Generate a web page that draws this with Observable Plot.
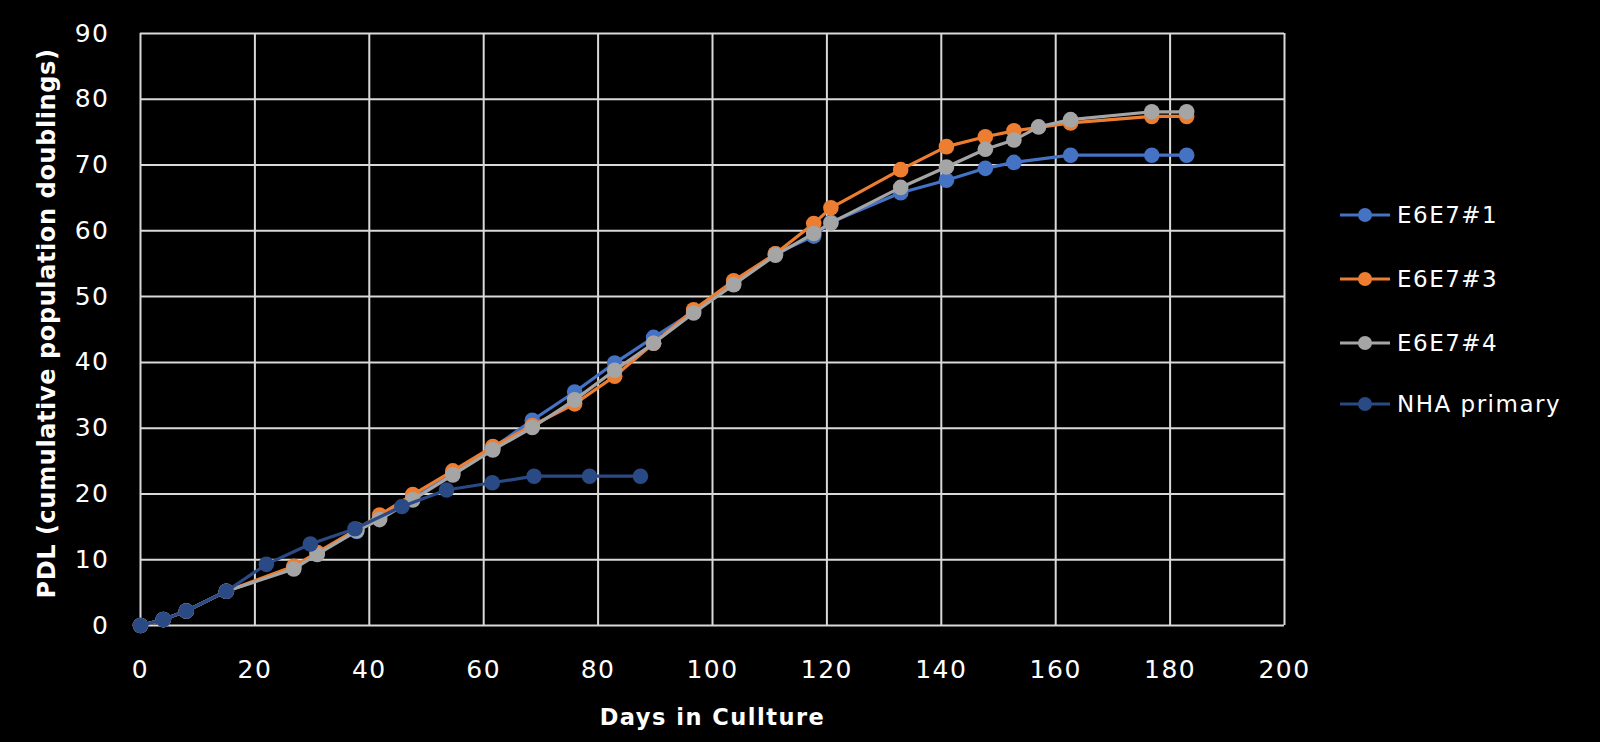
<!DOCTYPE html>
<html><head><meta charset="utf-8">
<script src="https://cdn.jsdelivr.net/npm/d3@7"></script>
<script src="https://cdn.jsdelivr.net/npm/@observablehq/plot@0.6"></script>
<style>
html,body{margin:0;padding:0;background:#000;}
#wrap{position:relative;width:1600px;height:742px;background:#000;}
#wrap svg text{letter-spacing:1.5px;}
#legend{position:absolute;left:0;top:0;}
</style></head><body><div id="wrap"></div>
<script>
const seriesNames = ["E6E7#1", "E6E7#3", "E6E7#4", "NHA primary"];
const seriesColors = ["#4472C4", "#ED7D31", "#A5A5A5", "#2A4A86"];

const daysE6E7_1 = [0, 4, 8, 15, 26.8, 30.9, 37.8, 41.8, 47.6, 54.6, 61.6, 68.5, 75.9, 82.9, 89.7, 96.7, 103.7, 111, 117.7, 120.7, 132.9, 140.9, 147.7, 152.7, 162.6, 176.8, 182.9];
const pdlE6E7_1  = [0, 0.9, 2.2, 5.2, 8.8, 11.0, 14.3, 16.4, 19.6, 23.2, 27.0, 31.2, 35.5, 39.9, 43.8, 47.7, 52.0, 56.5, 59.2, 61.3, 65.8, 67.7, 69.5, 70.4, 71.5, 71.5, 71.5];

const daysE6E7_3 = [0, 4, 8, 15, 26.8, 30.9, 37.8, 41.8, 47.6, 54.6, 61.6, 68.5, 75.9, 82.9, 89.7, 96.7, 103.7, 111, 117.7, 120.7, 132.9, 140.9, 147.7, 152.7, 162.6, 176.8, 182.9];
const pdlE6E7_3  = [0, 0.9, 2.2, 5.2, 9.0, 11.1, 14.6, 16.8, 19.9, 23.5, 27.2, 30.4, 33.7, 37.9, 42.9, 48.0, 52.4, 56.5, 61.1, 63.5, 69.3, 72.8, 74.3, 75.2, 76.4, 77.4, 77.4];

const daysE6E7_4 = [0, 4, 8, 15, 26.8, 30.9, 37.8, 41.8, 47.6, 54.6, 61.6, 68.5, 75.9, 82.9, 89.7, 96.7, 103.7, 111, 117.7, 120.7, 132.9, 140.9, 147.7, 152.7, 157, 162.6, 176.8, 182.9];
const pdlE6E7_4  = [0, 0.9, 2.2, 5.2, 8.6, 10.8, 14.4, 16.1, 19.1, 22.9, 26.7, 30.1, 34.3, 38.8, 42.9, 47.5, 51.8, 56.3, 59.6, 61.2, 66.6, 69.7, 72.4, 73.8, 75.8, 76.9, 78.1, 78.1];

const daysNHA = [0, 4, 8, 15, 22, 29.7, 37.5, 45.7, 53.5, 61.5, 68.8, 78.5, 87.4];
const pdlNHA  = [0, 0.9, 2.2, 5.2, 9.3, 12.4, 14.7, 18.1, 20.6, 21.7, 22.7, 22.7, 22.7];

const xTicks = [0, 20, 40, 60, 80, 100, 120, 140, 160, 180, 200];
const yTicks = [0, 10, 20, 30, 40, 50, 60, 70, 80, 90];
const xTitle = "Days in Cullture";
const yTitle = "PDL (cumulative population doublings)";

const seriesDays = [daysE6E7_1, daysE6E7_3, daysE6E7_4, daysNHA];
const seriesPdl = [pdlE6E7_1, pdlE6E7_3, pdlE6E7_4, pdlNHA];
const tables = seriesNames.map((name, i) =>
  seriesDays[i].map((d, j) => ({series: name, day: d, pdl: seriesPdl[i][j]})));

const gridColor = "#d9d9d9";
const seriesMarks = tables.flatMap(t => [
  Plot.line(t, {x: "day", y: "pdl", stroke: "series", strokeWidth: 3.2}),
  Plot.dot(t, {x: "day", y: "pdl", fill: "series", r: 7.8})
]);

const chart = Plot.plot({
  width: 1600,
  height: 742,
  marginLeft: 140,
  marginRight: 316,
  marginTop: 33,
  marginBottom: 117,
  style: {background: "#000", color: "#fff", fontFamily: "DejaVu Sans", fontSize: "25px"},
  x: {domain: [0, 200], ticks: xTicks, label: null},
  y: {domain: [0, 90], ticks: yTicks, label: null},
  color: {domain: seriesNames, range: seriesColors},
  marks: [
    Plot.gridX(xTicks, {stroke: gridColor, strokeOpacity: 1, strokeWidth: 2}),
    Plot.gridY(yTicks, {stroke: gridColor, strokeOpacity: 1, strokeWidth: 2}),
    Plot.axisX(xTicks, {tickSize: 0, tickPadding: 35, label: null, fill: "#fff", fontSize: 25}),
    Plot.axisY(yTicks, {tickSize: 0, tickPadding: 31, label: null, fill: "#fff", fontSize: 25}),
    ...seriesMarks,
    Plot.text([xTitle], {text: d => d, frameAnchor: "bottom", dy: 92, lineAnchor: "middle", fill: "#fff", fontWeight: "bold", fontSize: 22.5}),
    Plot.text([yTitle], {text: d => d, frameAnchor: "left", dx: -93, dy: -6, rotate: -90, textAnchor: "middle", lineAnchor: "middle", fill: "#fff", fontWeight: "bold", fontSize: 24})
  ]
});
document.getElementById("wrap").appendChild(chart);
d3.select(chart).selectAll("text")
  .filter(function() { return this.textContent === yTitle; })
  .style("letter-spacing", "0.6px");

// legend
const legendY = [215, 279, 343, 404];
const leg = d3.select("#wrap").append("svg").attr("id", "legend")
  .attr("width", 1600).attr("height", 742);
seriesNames.forEach((name, i) => {
  const g = leg.append("g").attr("transform", `translate(1340,${legendY[i]})`);
  g.append("line").attr("x1", 0).attr("x2", 50).attr("y1", 0).attr("y2", 0)
    .attr("stroke", seriesColors[i]).attr("stroke-width", 3);
  g.append("circle").attr("cx", 25).attr("cy", 0).attr("r", 7).attr("fill", seriesColors[i]);
  g.append("text").attr("x", 57).attr("y", 0).attr("dy", "0.36em")
    .attr("fill", "#fff").attr("font-family", "DejaVu Sans").attr("font-size", 23)
    .text(name);
});
</script>
</body></html>
